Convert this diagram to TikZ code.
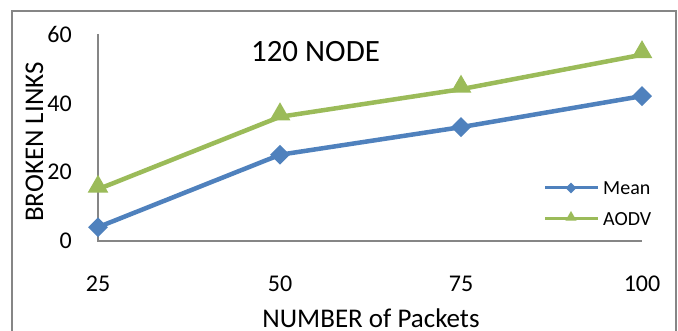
\documentclass[tikz,border=0pt]{standalone}
\usepackage{fontspec}
\setmainfont{Carlito}
\usetikzlibrary{shapes.geometric}
\definecolor{meanblue}{HTML}{4F81BD}
\definecolor{aodvgreen}{HTML}{9BBB59}
\definecolor{axisgray}{HTML}{868686}
\tikzset{
  frameline/.style={draw=axisgray, line width=1.5pt},
  axisline/.style={draw=axisgray, line width=1.3pt},
  meanline/.style={draw=meanblue, line width=4.5pt, line join=round},
  aodvline/.style={draw=aodvgreen, line width=4.5pt, line join=round},
  meanmark/.style={diamond, fill=meanblue, inner sep=0pt, minimum width=20pt, minimum height=20pt},
  aodvmark/.style={regular polygon, regular polygon sides=3, fill=aodvgreen, inner sep=0pt, minimum size=24pt, yshift=2.5pt},
  legmean/.style={diamond, fill=meanblue, inner sep=0pt, minimum width=11pt, minimum height=11pt},
  legaodv/.style={regular polygon, regular polygon sides=3, fill=aodvgreen, inner sep=0pt, minimum size=13pt, yshift=1.5pt},
  ticklbl/.style={font=\fontsize{24}{28}\selectfont, inner sep=0pt},
  axtitle/.style={font=\fontsize{27}{32}\selectfont, inner sep=0pt},
  legtext/.style={font=\fontsize{20}{24}\selectfont, inner sep=0pt, anchor=base west},
}
\begin{document}
\begin{tikzpicture}[x=1pt, y=-1pt]
\useasboundingbox (0,0) rectangle (678,331);
\fill[white] (0,0) rectangle (678,331);

% chart frame (bottom edge lies below the page)
\draw[frameline] (12,345) -- (12,11) -- (676,11) -- (676,345);

% axes
\coordinate (origin) at (98,241);
\coordinate (ytop) at (98,34);
\coordinate (xend) at (642,241);
\draw[axisline] (ytop) -- (origin) -- (xend);

% y tick labels
\node[ticklbl, anchor=east] (y0)  at (72,241)   {0};
\node[ticklbl, anchor=east] (y20) at (72,172)   {20};
\node[ticklbl, anchor=east] (y40) at (72,103.5) {40};
\node[ticklbl, anchor=east] (y60) at (72,34.5)  {60};

% x tick labels
\node[ticklbl] (x25)  at (98,284)  {25};
\node[ticklbl] (x50)  at (280,284) {50};
\node[ticklbl] (x75)  at (461,284) {75};
\node[ticklbl] (x100) at (642,284) {100};

% titles
\node[font=\fontsize{31}{37}\selectfont, inner sep=0pt, anchor=base] (title) at (315.5,62) {120 NODE};
\node[axtitle, rotate=90, anchor=base] (ytitle) at (43,142) {BROKEN LINKS};
\node[axtitle, anchor=base] (xtitle) at (371,328) {NUMBER of Packets};

% data points
\coordinate (m1) at (98,227.2);
\coordinate (m2) at (280,154.75);
\coordinate (m3) at (461,127.15);
\coordinate (m4) at (642,96.1);
\coordinate (a1) at (98,189.25);
\coordinate (a2) at (280,116.8);
\coordinate (a3) at (461,89.2);
\coordinate (a4) at (642,54.7);

% series lines
\draw[aodvline] (a1) -- (a2) -- (a3) -- (a4);
\draw[meanline] (m1) -- (m2) -- (m3) -- (m4);

% series markers
\foreach \p in {a1,a2,a3,a4} \node[aodvmark] (mk\p) at (\p) {};
\foreach \p in {m1,m2,m3,m4} \node[meanmark] (mk\p) at (\p) {};

% legend
\coordinate (lm1) at (545,188);
\coordinate (lm2) at (598,188);
\coordinate (la1) at (545,219);
\coordinate (la2) at (598,219);
\draw[draw=meanblue, line width=3pt] (lm1) -- (lm2);
\draw[draw=aodvgreen, line width=3pt] (la1) -- (la2);
\node[legmean] (lmk) at (571,188) {};
\node[legaodv] (lak) at (571,219) {};
\node[legtext] (lmt) at (603,195) {Mean};
\node[legtext] (lat) at (603,226) {AODV};
\end{tikzpicture}
\end{document}
